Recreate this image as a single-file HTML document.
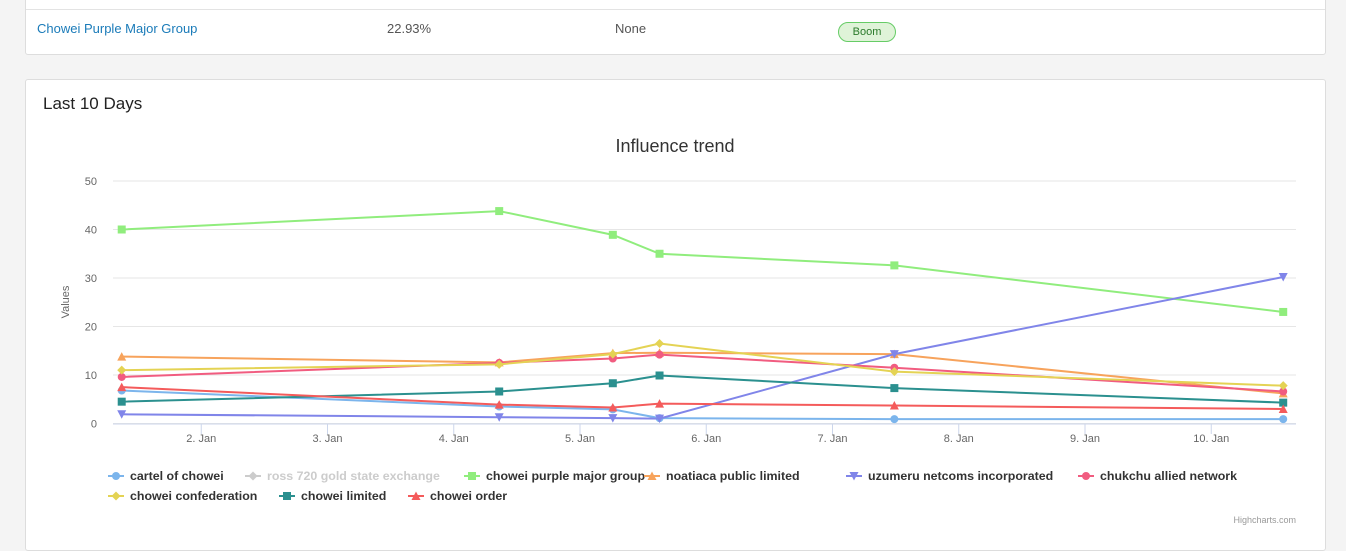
<!DOCTYPE html>
<html><head><meta charset="utf-8"><style>
body{margin:0;width:1346px;height:537px;overflow:hidden;background:#f4f4f4;font-family:"Liberation Sans",sans-serif;}
.card{position:absolute;left:25px;width:1299px;background:#fff;border:1px solid #ddd;border-radius:3px;}
.cell{position:absolute;top:24px;font-size:13px;color:#555;}
</style></head><body>
<div class="card" style="top:-4px;height:57px;">
  <div style="position:absolute;left:0;right:0;top:12px;border-top:1px solid #e3e3e3"></div>
  <a class="cell" style="left:11px;color:#1a7bb9;text-decoration:none">Chowei Purple Major Group</a>
  <div class="cell" style="left:361px">22.93%</div>
  <div class="cell" style="left:589px">None</div>
  <div style="position:absolute;left:812px;top:25px;width:56px;height:18px;border:1px solid #6c6;border-radius:10px;background:#dff3d8;color:#2a7a2a;font-size:11px;text-align:center;line-height:18px">Boom</div>
</div>
<div class="card" style="top:79px;height:470px;">
  <div style="position:absolute;left:17px;top:14px;font-size:17px;color:#222">Last 10 Days</div>
</div>
<svg id="c" width="1346" height="537" style="position:absolute;left:0;top:0"></svg>
<script>
const categories=[1.37,4.36,5.26,5.63,7.49,10.57];
const seriesNames=["cartel of chowei","ross 720 gold state exchange","chowei purple major group","noatiaca public limited","uzumeru netcoms incorporated","chukchu allied network","chowei confederation","chowei limited","chowei order"];
const cartel=[6.8,3.5,2.9,1.1,0.9,0.9];
const ross=[];
const purple=[40,43.8,38.9,35.0,32.6,23.0];
const noatiaca=[13.8,12.6,14.5,14.6,14.3,6.2];
const uzumeru=[1.9,1.3,1.1,1.0,14.3,30.2];
const chukchu=[9.6,12.5,13.4,14.2,11.5,6.6];
const confed=[11.0,12.2,14.3,16.5,10.7,7.8];
const limited=[4.5,6.6,8.3,9.9,7.3,4.3];
const order=[7.5,3.9,3.3,4.1,3.7,3.0];
const yTicks=[0,10,20,30,40,50];
const xTicks=[2,3,4,5,6,7,8,9,10];
const colors=["#7cb5ec","#ccc","#90ed7d","#f7a35c","#8085e9","#f15c80","#e4d354","#2b908f","#f45b5b"];
const symbols=["circle","diamond","square","triangle","triangle-down","circle","diamond","square","triangle"];
const data=[cartel,ross,purple,noatiaca,uzumeru,chukchu,confed,limited,order];
const NS="http://www.w3.org/2000/svg",svg=document.getElementById('c');
const X=d=>75+(d-1)*126.25, Y=v=>423.5-v*4.85;
function mk(t,a,p){const e=document.createElementNS(NS,t);for(const k in a)e.setAttribute(k,a[k]);(p||svg).appendChild(e);return e;}
function txt(s,a){const e=mk('text',a);e.textContent=s;return e;}
let t=txt("Influence trend",{x:675,y:152,'text-anchor':'middle','font-size':18,fill:'#333'});

yTicks.forEach(v=>{
  const g=mk('line',{x1:113,x2:1296,y1:Y(v),y2:Y(v),stroke:'#e6e6e6'});
  
  const l=txt(v,{x:97,y:Y(v)+4,'text-anchor':'end','font-size':11,fill:'#666'});
  
});
const ax=mk('line',{x1:113,x2:1296,y1:424,y2:424,stroke:'#ccd6eb'});

xTicks.forEach(d=>{
  mk('line',{x1:X(d),x2:X(d),y1:424,y2:434,stroke:'#ccd6eb'});
  const l=txt(d+". Jan",{x:X(d),y:442,'text-anchor':'middle','font-size':11,fill:'#666'});
  
});
t=txt("Values",{x:0,y:0,transform:'translate(69,302) rotate(-90)','text-anchor':'middle','font-size':11,fill:'#666'});

function marker(s,x,y,c,p){
  if(s=='circle')return mk('circle',{cx:x,cy:y,r:4,fill:c},p);
  if(s=='square')return mk('rect',{x:x-4,y:y-4,width:8,height:8,fill:c},p);
  if(s=='diamond')return mk('path',{d:`M${x} ${y-4.5}L${x+4.5} ${y}L${x} ${y+4.5}L${x-4.5} ${y}Z`,fill:c},p);
  if(s=='triangle')return mk('path',{d:`M${x} ${y-4.5}L${x+4.5} ${y+4}L${x-4.5} ${y+4}Z`,fill:c},p);
  return mk('path',{d:`M${x} ${y+4.5}L${x+4.5} ${y-4}L${x-4.5} ${y-4}Z`,fill:c},p);
}
data.forEach((s,i)=>{
  if(!s.length)return;
  const g=mk('g',{});
  
  
  mk('path',{d:s.map((v,j)=>(j?'L':'M')+X(categories[j])+' '+Y(v)).join(''),fill:'none',stroke:colors[i],'stroke-width':2},g);
  s.forEach((v,j)=>{const m=marker(symbols[i],X(categories[j]),Y(v),colors[i],g);
    });
});
const pos=[[130,476],[267,476],[486,476],[666,476],[868,476],[1100,476],[130,496],[301,496],[430,496]];
seriesNames.forEach((n,i)=>{
  const [tx,y]=pos[i];const x=tx-14;const g=mk('g',{});
  
  
  const c=i==1?'#ccc':colors[i];
  mk('line',{x1:x-8,x2:x+8,y1:y,y2:y,stroke:c,'stroke-width':2},g);
  marker(symbols[i],x,y,c,g);
  const l=mk('text',{x:tx,y:y+4,'font-size':12.4,'font-weight':'bold',fill:i==1?'#ccc':'#333'},g);l.textContent=n;
});
t=txt("Highcharts.com",{x:1296,y:523,'text-anchor':'end','font-size':9,fill:'#999'});

</script></body></html>
